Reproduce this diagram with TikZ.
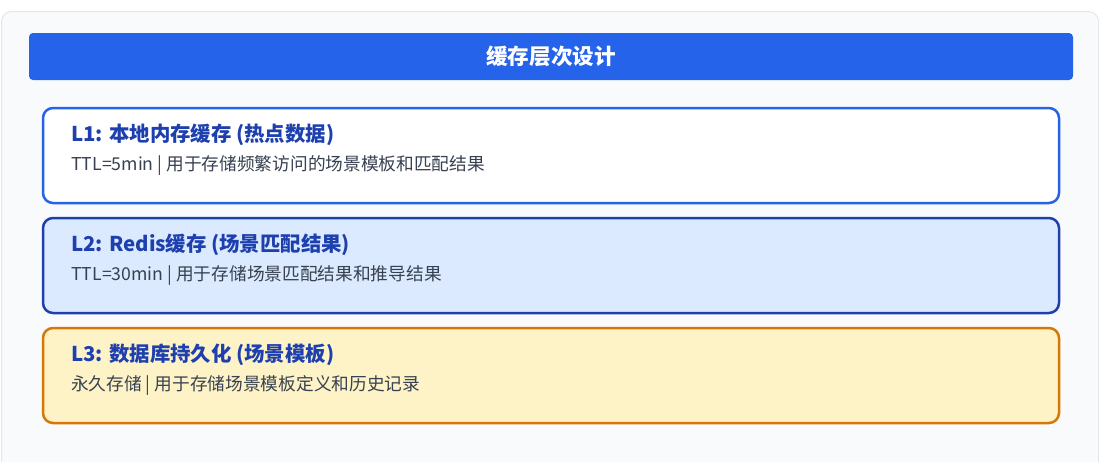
\documentclass[tikz,border=0pt]{standalone}
\usepackage{fontspec}
\setmainfont{Noto Sans CJK SC}
\definecolor{panelfill}{HTML}{F9FAFB}
\definecolor{panelline}{HTML}{E5E7EB}
\definecolor{blue6}{HTML}{2563EB}
\definecolor{blue8}{HTML}{1E40AF}
\definecolor{blue1}{HTML}{DBEAFE}
\definecolor{amber6}{HTML}{D97706}
\definecolor{amber1}{HTML}{FEF3C7}
\definecolor{gray7}{HTML}{374151}
\tikzset{
  layerbox/.style={draw, line width=2.5pt, rounded corners=10pt, minimum width=1016pt, minimum height=95pt, inner sep=0pt},
  layertitle/.style={anchor=base west, inner sep=0pt, text=blue8, font=\fontsize{20.4}{24}\selectfont\bfseries},
  layerdesc/.style={anchor=base west, inner sep=0pt, text=gray7, font=\fontsize{17.7}{21}\selectfont},
  titlebar/.style={fill=blue6, rounded corners=4pt, minimum width=1044pt, minimum height=47pt, inner sep=0pt, text=white, font=\fontsize{21.6}{25}\selectfont\bfseries}
}
\begin{document}
\begin{tikzpicture}[x=1pt,y=-1pt]
\useasboundingbox (0,0) rectangle (1099,461);
\fill[white] (0,0) rectangle (1099,461);
\draw[panelline, fill=panelfill, line width=1pt, rounded corners=10pt] (1.5,11.5) rectangle (1098.5,520);
\node[titlebar] (title) at (551,56.5) {缓存层次设计};
\node[layerbox, draw=blue6, fill=white] (l1) at (551,155.5) {};
\node[layerbox, draw=blue8, fill=blue1] (l2) at (551,265.5) {};
\node[layerbox, draw=amber6, fill=amber1] (l3) at (551,375.5) {};
\node[layertitle] (t1) at (71,141.5) {L1: 本地内存缓存 (热点数据)};
\node[layerdesc] (d1) at (71,170) {TTL=5min | 用于存储频繁访问的场景模板和匹配结果};
\node[layertitle] (t2) at (71,251.5) {L2: Redis缓存 (场景匹配结果)};
\node[layerdesc] (d2) at (71,280) {TTL=30min | 用于存储场景匹配结果和推导结果};
\node[layertitle] (t3) at (71,361.5) {L3: 数据库持久化 (场景模板)};
\node[layerdesc] (d3) at (71,390) {永久存储 | 用于存储场景模板定义和历史记录};
\end{tikzpicture}
\end{document}
